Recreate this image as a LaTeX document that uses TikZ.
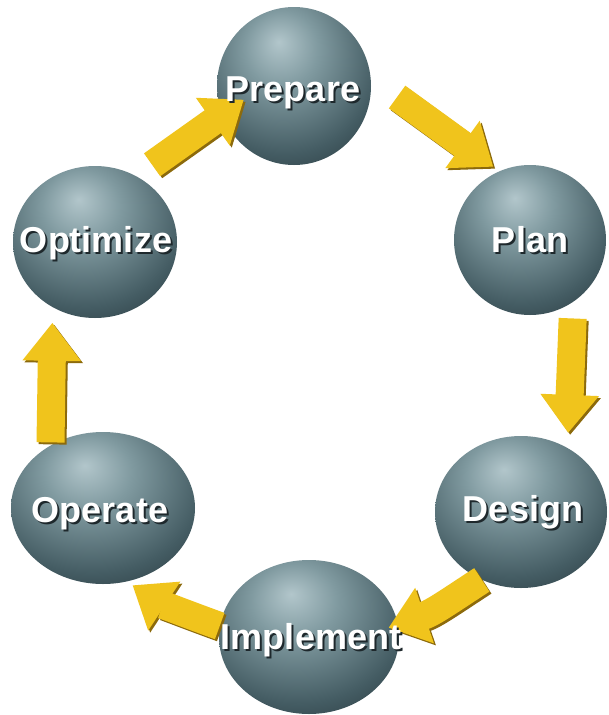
\documentclass[tikz,border=0pt]{standalone}
\usepackage{fontspec}
\setmainfont{Liberation Sans}
\usetikzlibrary{shapes.geometric,arrows.meta}
\definecolor{sphHL}{RGB}{178,198,203}
\definecolor{sphL}{RGB}{128,154,160}
\definecolor{sphM}{RGB}{68,92,99}
\definecolor{sphD}{RGB}{30,42,47}
\definecolor{sphE}{RGB}{16,22,26}
\definecolor{arrY}{RGB}{240,196,28}
\definecolor{arrS}{RGB}{140,106,12}
\definecolor{txtS}{RGB}{30,40,44}
\pgfdeclareradialshading{sphshade}{\pgfpoint{-5bp}{14bp}}{color(0bp)=(sphHL); color(12bp)=(sphL); color(30bp)=(sphM); color(46bp)=(sphD); color(75bp)=(sphE)}
\tikzset{
  sph/.style={ellipse, inner sep=0pt, draw=none, shade, shading=sphshade},
  lbl/.style={text=white, font=\bfseries\fontsize{36}{36}\selectfont, anchor=base, inner sep=0pt},
  lblsh/.style={text=txtS, font=\bfseries\fontsize{36}{36}\selectfont, anchor=base, inner sep=0pt},
  arrmain/.style={draw=arrY, line width=28pt, -{Triangle[length=38pt,width=56pt]}},
  arrshadow/.style={draw=arrS, line width=28pt, -{Triangle[length=38pt,width=56pt]}, transform canvas={shift={(2pt,-2pt)}}},
}
\newcommand\yarr[2]{\draw[arrshadow,#1] #2; \draw[arrmain,#1] #2;}
\newcommand\lab[4]{\node[lblsh] (#1s) at (#2+2,#3+2) {#4}; \node[lbl] (#1) at (#2,#3) {#4};}
\begin{document}
\begin{tikzpicture}[x=1pt,y=-1pt]
\fill[white] (0,0) rectangle (608,715);
\useasboundingbox (0,0) rectangle (608,715);
% spheres
\node[sph, minimum width=154pt, minimum height=158pt] (prep) at (294,86) {};
\node[sph, minimum width=152pt, minimum height=150pt] (plan) at (530,240) {};
\node[sph, minimum width=164pt, minimum height=152pt] (opt)  at (95,242) {};
\node[sph, minimum width=184pt, minimum height=152pt] (oper) at (103,508) {};
\node[sph, minimum width=172pt, minimum height=152pt] (des)  at (521,512) {};
\node[sph, minimum width=180pt, minimum height=154pt] (impl) at (309,637) {};
% arrows
\yarr{shorten <=19.5pt, shorten >=-26.5pt}{(opt.58) -- (prep.202)}
\yarr{shorten <=32.5pt, shorten >=7.5pt}{(prep.6) -- (plan.114)}
\yarr{shorten <=16.6pt, shorten >=15pt}{(plan.305.4) -- (des.54.1)}
\yarr{shorten >=-10pt}{(des.240) to[out=213,in=18.6] (impl.8.1)}
\yarr{shorten >=6.7pt}{(impl.173.6) to[out=160,in=326.7] (oper.288.4)}
\yarr{shorten <=3pt, shorten >=15.5pt}{(oper.130.6) -- (opt.237.6)}
% labels
\lab{tprep}{293}{101}{Prepare}
\lab{tplan}{530}{252}{Plan}
\lab{topt}{96}{252}{Optimize}
\lab{toper}{100}{522}{Operate}
\lab{tdes}{523}{521}{Design}
\lab{timpl}{311}{649}{Implement}
\end{tikzpicture}
\end{document}
